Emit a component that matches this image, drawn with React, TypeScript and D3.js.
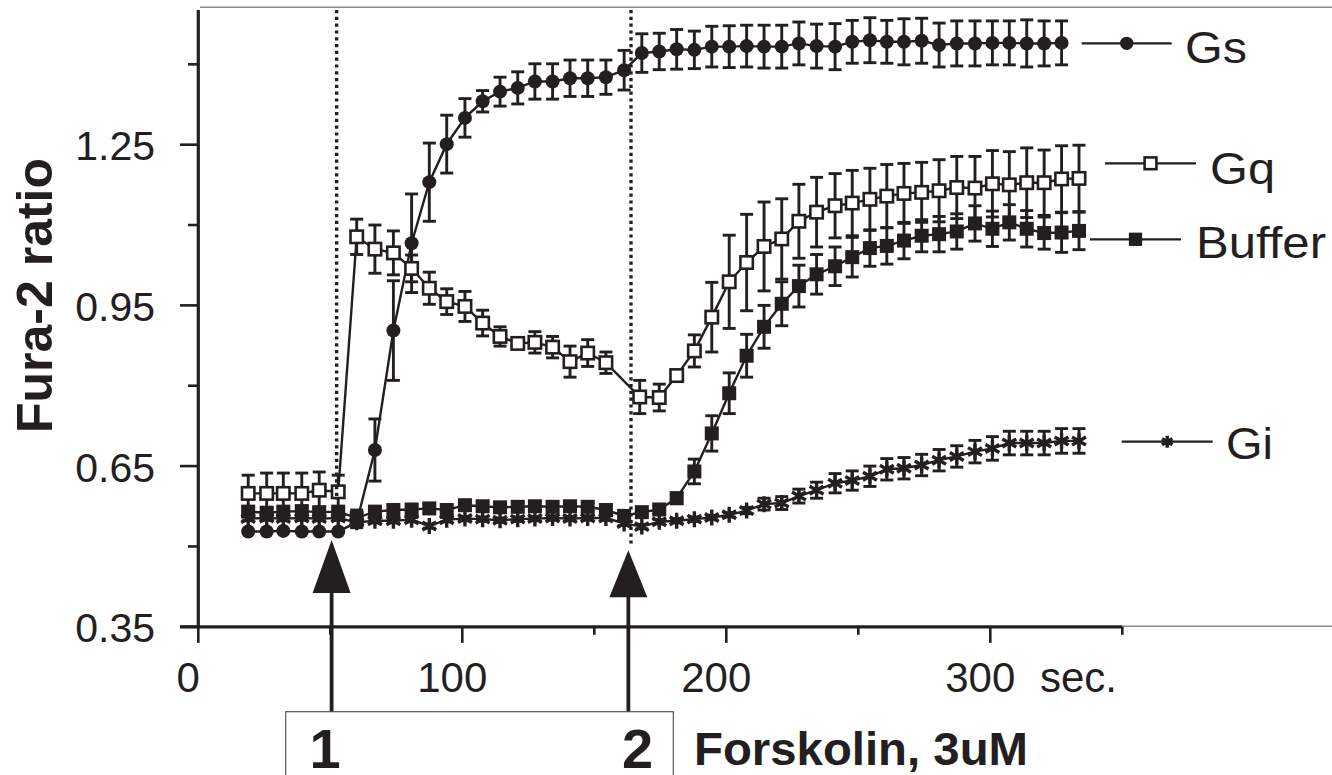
import React from "react";
import * as d3 from "d3";

// ---- data ----
const TIME = [18.9, 25.9, 32.2, 39.2, 45.8, 53.0, 60.0, 66.9, 73.9, 80.8, 87.5, 94.1, 101.0, 107.7, 114.3, 121.0, 127.5, 134.2, 140.8, 147.5, 154.4, 161.3, 168.0, 174.6, 181.2, 187.9, 194.5, 201.1, 207.7, 214.3, 221.0, 227.5, 234.2, 241.2, 247.7, 254.4, 260.8, 267.3, 274.0, 280.6, 287.3, 294.2, 300.8, 307.2, 313.8, 320.4, 327.0, 333.6];

const GS_TIME = TIME.slice(0, 47);
const GS_MEAN = [0.528, 0.528, 0.529, 0.528, 0.528, 0.528, 0.545, 0.680, 0.903, 1.066, 1.180, 1.251, 1.300, 1.331, 1.349, 1.356, 1.368, 1.368, 1.374, 1.374, 1.376, 1.389, 1.421, 1.424, 1.428, 1.427, 1.433, 1.433, 1.434, 1.433, 1.433, 1.439, 1.434, 1.433, 1.442, 1.445, 1.442, 1.442, 1.444, 1.436, 1.439, 1.439, 1.440, 1.440, 1.439, 1.439, 1.440];
const GS_ERR = [0, 0, 0, 0, 0, 0, 0.01, 0.058, 0.093, 0.092, 0.073, 0.054, 0.036, 0.02, 0.027, 0.03, 0.033, 0.033, 0.034, 0.034, 0.032, 0.037, 0.036, 0.034, 0.037, 0.035, 0.038, 0.039, 0.039, 0.04, 0.04, 0.04, 0.041, 0.043, 0.04, 0.042, 0.04, 0.043, 0.042, 0.041, 0.042, 0.042, 0.041, 0.041, 0.044, 0.042, 0.041];

const GQ_TIME = [18.9, 25.9, 32.2, 39.2, 45.8, 53.0, 60.0, 66.9, 73.9, 80.8, 87.5, 94.1, 101.0, 107.7, 114.3, 121.0, 127.5, 134.2, 140.8, 147.5, 154.4, 167.2, 174.6, 181.2, 187.9, 194.5, 201.1, 207.7, 214.3, 221.0, 227.5, 234.2, 241.2, 247.7, 254.4, 260.8, 267.3, 274.0, 280.6, 287.3, 294.2, 300.8, 307.2, 313.8, 320.4, 327.0, 333.6];
const GQ_MEAN = [0.599, 0.599, 0.599, 0.599, 0.605, 0.602, 1.078, 1.055, 1.048, 1.019, 0.982, 0.957, 0.948, 0.917, 0.892, 0.879, 0.881, 0.872, 0.845, 0.861, 0.843, 0.779, 0.778, 0.819, 0.865, 0.928, 0.994, 1.030, 1.060, 1.074, 1.107, 1.124, 1.136, 1.141, 1.148, 1.154, 1.159, 1.161, 1.164, 1.170, 1.169, 1.177, 1.175, 1.179, 1.179, 1.186, 1.187];
const GQ_ERR = [0.034, 0.038, 0.038, 0.038, 0.034, 0.031, 0.033, 0.045, 0.041, 0.025, 0.03, 0.024, 0.028, 0.024, 0.018, 0.01, 0.02, 0.02, 0.029, 0.025, 0.02, 0.031, 0.025, 0.01, 0.03, 0.065, 0.087, 0.09, 0.083, 0.075, 0.069, 0.065, 0.06, 0.061, 0.058, 0.059, 0.056, 0.056, 0.058, 0.058, 0.059, 0.062, 0.062, 0.065, 0.061, 0.062, 0.062];

const BUF_TIME = TIME;
const BUF_MEAN = [0.565, 0.563, 0.565, 0.566, 0.564, 0.565, 0.553, 0.565, 0.568, 0.569, 0.571, 0.568, 0.577, 0.575, 0.573, 0.574, 0.575, 0.574, 0.575, 0.574, 0.568, 0.557, 0.564, 0.569, 0.590, 0.640, 0.711, 0.786, 0.856, 0.910, 0.953, 0.986, 1.008, 1.023, 1.040, 1.057, 1.061, 1.071, 1.080, 1.083, 1.088, 1.103, 1.093, 1.105, 1.093, 1.085, 1.086, 1.089];
const BUF_ERR = [0.008, 0.008, 0.008, 0.008, 0.008, 0.008, 0.015, 0.008, 0.008, 0.008, 0.008, 0.008, 0.008, 0.008, 0.008, 0.008, 0.008, 0.008, 0.008, 0.008, 0.008, 0.008, 0.008, 0.008, 0.01, 0.023, 0.033, 0.038, 0.04, 0.04, 0.041, 0.039, 0.037, 0.036, 0.037, 0.034, 0.034, 0.034, 0.03, 0.033, 0.033, 0.033, 0.033, 0.033, 0.034, 0.03, 0.037, 0.035];

const GI_TIME = TIME;
const GI_MEAN = [0.552, 0.553, 0.552, 0.553, 0.552, 0.553, 0.545, 0.548, 0.548, 0.550, 0.538, 0.550, 0.552, 0.551, 0.549, 0.551, 0.552, 0.553, 0.552, 0.553, 0.553, 0.543, 0.537, 0.546, 0.548, 0.551, 0.554, 0.559, 0.567, 0.579, 0.581, 0.594, 0.605, 0.618, 0.623, 0.631, 0.644, 0.646, 0.652, 0.661, 0.668, 0.677, 0.683, 0.693, 0.693, 0.693, 0.697, 0.697];
const GI_ERR = [0.004, 0.004, 0.004, 0.004, 0.004, 0.004, 0.004, 0.004, 0.004, 0.004, 0.004, 0.004, 0.004, 0.004, 0.004, 0.004, 0.004, 0.004, 0.004, 0.004, 0.004, 0.004, 0.004, 0.004, 0.004, 0.004, 0.004, 0.004, 0.006, 0.011, 0.012, 0.013, 0.015, 0.018, 0.018, 0.019, 0.02, 0.02, 0.02, 0.02, 0.02, 0.021, 0.022, 0.022, 0.022, 0.022, 0.023, 0.023];

const SERIES_NAMES = ["Gs", "Gq", "Buffer", "Gi"];
const Y_TICKS = [0.35, 0.5, 0.65, 0.8, 0.95, 1.1, 1.25, 1.4];
const Y_LABELS = ["0.35", "0.65", "0.95", "1.25"];
const X_TICKS = [0, 50, 100, 150, 200, 250, 300, 350];
const X_LABELS = ["0", "100", "200", "300"];
const STIM_TIMES = [50.5, 162.9]; // arrows
const DOTTED_TIMES = [52.4, 163.9];
const STIM_LABELS = ["1", "2"];
const ARROW_TIP = [0.512, 0.493];

const INK = "#231f20";
const FONT = "'Liberation Sans', Arial, Helvetica, sans-serif";

type Kind = "circle" | "openSquare" | "square" | "asterisk";

function Marker({ kind, cx, cy, s = 1 }: { kind: Kind; cx: number; cy: number; s?: number }) {
  if (kind === "circle") return <circle cx={cx} cy={cy} r={7 * s} fill={INK} />;
  if (kind === "square") {
    const h = 7 * s;
    return <rect x={cx - h} y={cy - h} width={2 * h} height={2 * h} fill={INK} />;
  }
  if (kind === "openSquare") {
    const h = 6.2 * s;
    return <rect x={cx - h} y={cy - h} width={2 * h} height={2 * h} fill="#fff" stroke={INK} strokeWidth={2.6} />;
  }
  const r = 8 * s;
  const p = d3.path();
  [90, 30, 150].forEach((a) => {
    const rad = (a * Math.PI) / 180;
    p.moveTo(cx - r * Math.cos(rad), cy - r * Math.sin(rad));
    p.lineTo(cx + r * Math.cos(rad), cy + r * Math.sin(rad));
  });
  return <path d={p.toString()} stroke={INK} strokeWidth={3.4} fill="none" />;
}

export default function App() {
  const x = d3.scaleLinear().domain([0, 350]).range([198.3, 1122.3]);
  const y = d3.scaleLinear().domain([0.35, 1.5]).range([626.8, 10.75]);
  const line = d3.line<[number, number]>().x((d) => x(d[0])).y((d) => y(d[1]));

  const series: { name: string; t: number[]; m: number[]; e: number[]; kind: Kind }[] = [
    { name: SERIES_NAMES[0], t: GS_TIME, m: GS_MEAN, e: GS_ERR, kind: "circle" },
    { name: SERIES_NAMES[3], t: GI_TIME, m: GI_MEAN, e: GI_ERR, kind: "asterisk" },
    { name: SERIES_NAMES[2], t: BUF_TIME, m: BUF_MEAN, e: BUF_ERR, kind: "square" },
    { name: SERIES_NAMES[1], t: GQ_TIME, m: GQ_MEAN, e: GQ_ERR, kind: "openSquare" },
  ];

  const legend = [
    { name: "Gs", kind: "circle" as Kind, x1: 1081.7, x2: 1171.7, ly: 43.3, tx: 1185, tb: 63.3, tl: 62 },
    { name: "Gq", kind: "openSquare" as Kind, x1: 1105, x2: 1196, ly: 163.3, tx: 1210, tb: 184, tl: 65 },
    { name: "Buffer", kind: "square" as Kind, x1: 1090, x2: 1181, ly: 239.3, tx: 1196, tb: 258.3, tl: 130 },
    { name: "Gi", kind: "asterisk" as Kind, x1: 1121.7, x2: 1212.7, ly: 441.7, tx: 1226, tb: 459.3, tl: 47 },
  ];

  const y0 = y(0.35);
  const capW = 6.5;

  return (
    <svg width={1332} height={775} style={{ position: "absolute", left: 0, top: 0, background: "#fff" }} fontFamily={FONT}>
      <rect x={0} y={0} width={1332} height={775} fill="#fff" />
      {/* frame remnants */}
      <line x1={200} x2={1332} y1={7.3} y2={7.3} stroke="#8c8c8c" strokeWidth={1.5} />
      <line x1={x(350)} x2={1332} y1={y0 - 0.5} y2={y0 - 0.5} stroke="#8c8c8c" strokeWidth={1.4} />
      {/* axes */}
      <line x1={x(0)} x2={x(0)} y1={10} y2={y0 + 1.5} stroke={INK} strokeWidth={3.2} />
      <line x1={180} x2={x(350)} y1={y0} y2={y0} stroke={INK} strokeWidth={3.2} />
      {Y_TICKS.map((v) => {
        const major = Y_LABELS.includes(v.toFixed(2));
        return <line key={"yt" + v} x1={major ? 180 : 188} x2={x(0)} y1={y(v)} y2={y(v)} stroke={INK} strokeWidth={2.6} />;
      })}
      {Y_LABELS.map((l) => (
        <text key={"yl" + l} x={155} y={y(+l) + 15.5} textAnchor="end" fontSize={41} fill={INK}>{l}</text>
      ))}
      {X_TICKS.map((v) => {
        const major = X_LABELS.includes(String(v));
        return <line key={"xt" + v} x1={x(v)} x2={x(v)} y1={y0} y2={y0 + (major ? 16 : 8)} stroke={INK} strokeWidth={2.6} />;
      })}
      {X_LABELS.map((l) => (
        <text key={"xl" + l} x={x(+l) - 10} y={691.7} textAnchor="middle" fontSize={42} fill={INK}>{l}</text>
      ))}
      <text x={1040} y={691.7} fontSize={42} fill={INK}>sec.</text>
      <text transform={`translate(51.5,295.5) rotate(-90)`} textAnchor="middle" fontSize={50} fontWeight="bold" fill={INK}>Fura-2 ratio</text>

      {/* series */}
      {series.map((s) => {
        const pts = s.t.map((t, i) => [t, s.m[i]] as [number, number]);
        return (
          <g key={s.name}>
            <path d={line(pts) || ""} fill="none" stroke={INK} strokeWidth={2.4} />
            {pts.map(([t, m], i) => {
              const e = s.e[i];
              if (!e) return null;
              const cx = x(t);
              return (
                <g key={"e" + i} stroke={INK} strokeWidth={2.9}>
                  <line x1={cx} x2={cx} y1={y(m - e)} y2={y(m + e)} />
                  <line x1={cx - capW} x2={cx + capW} y1={y(m + e)} y2={y(m + e)} />
                  <line x1={cx - capW} x2={cx + capW} y1={y(m - e)} y2={y(m - e)} />
                </g>
              );
            })}
            {pts.map(([t, m], i) => (
              <Marker key={"m" + i} kind={s.kind} cx={x(t)} cy={y(m)} />
            ))}
          </g>
        );
      })}

      {/* dotted stimulus lines */}
      {DOTTED_TIMES.map((t, i) => (
        <line key={"d" + i} x1={x(t)} x2={x(t)} y1={10} y2={i === 0 ? 500 : 545} stroke={INK} strokeWidth={3.4} strokeDasharray="3.2 3.6" />
      ))}

      {/* arrows */}
      {STIM_TIMES.map((t, i) => {
        const ax = x(t);
        const tip = y(ARROW_TIP[i]);
        const base = tip + (i === 0 ? 53 : 47);
        return (
          <g key={"a" + i}>
            <line x1={ax} x2={ax} y1={base - 2} y2={711.7} stroke={INK} strokeWidth={3.8} />
            <path d={`M${ax},${tip} L${ax + 19},${base} L${ax - 19},${base} Z`} fill={INK} />
          </g>
        );
      })}

      {/* stimulus box */}
      <rect x={285.7} y={711.7} width={387.6} height={100} fill="none" stroke="#555" strokeWidth={1.2} />
      {STIM_LABELS.map((l, i) => (
        <text key={"s" + l} x={i === 0 ? 325 : 637.5} y={768} textAnchor="middle" fontSize={56} fontWeight="bold" fill={INK}>{l}</text>
      ))}
      <text x={694} y={765} fontSize={46} fontWeight="bold" fill={INK} textLength={334} lengthAdjust="spacingAndGlyphs">Forskolin, 3uM</text>

      {/* legend */}
      {legend.map((l) => (
        <g key={"lg" + l.name}>
          <line x1={l.x1} x2={l.x2} y1={l.ly} y2={l.ly} stroke={INK} strokeWidth={2.2} />
          <Marker kind={l.kind} cx={(l.x1 + l.x2) / 2} cy={l.ly} s={l.kind === "asterisk" ? 0.75 : 0.95} />
          <text x={l.tx} y={l.tb} fontSize={44} fill={INK} textLength={l.tl} lengthAdjust="spacingAndGlyphs">{l.name}</text>
        </g>
      ))}
    </svg>
  );
}
